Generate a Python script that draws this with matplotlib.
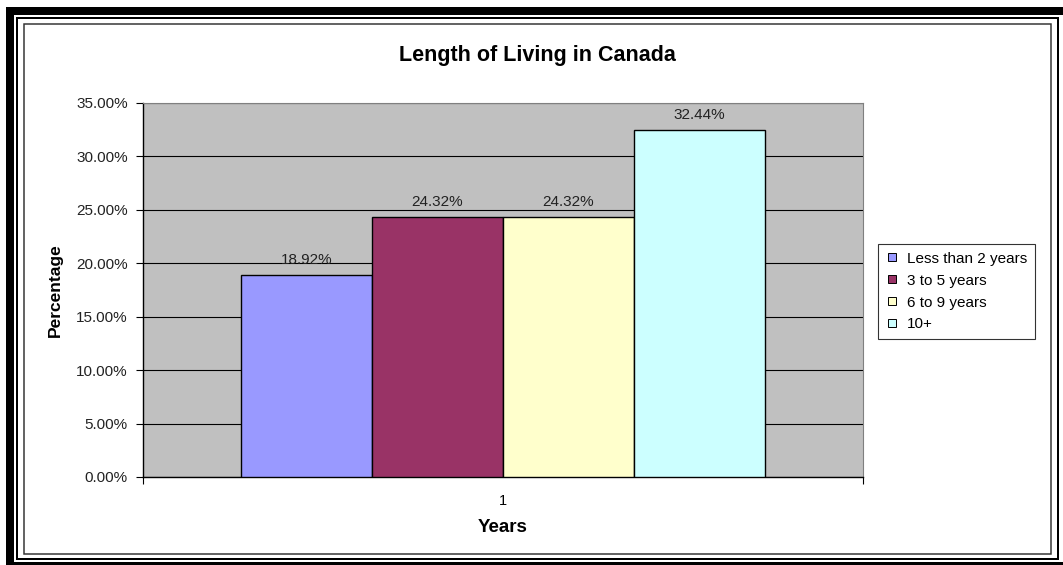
import numpy as np
import matplotlib
matplotlib.use("Agg")
import matplotlib.pyplot as plt
from matplotlib.patches import Rectangle
from matplotlib.lines import Line2D
from matplotlib.ticker import FuncFormatter, MultipleLocator

plt.rcParams['font.family'] = ['Liberation Sans', 'DejaVu Sans']

categories = ["Less than 2 years", "3 to 5 years", "6 to 9 years", "10+"]
values = [0.1892, 0.2432, 0.2432, 0.3244]
colors = ["#9999FF", "#993366", "#FFFFCC", "#CCFFFF"]
xtick_labels = ["1"]

W, H = 1063, 565
fig = plt.figure(figsize=(W / 100, H / 100), dpi=100)

def px_rect(x0, y0, x1, y1, lw, color):
    # rectangle given in pixel coords from top-left
    r = Rectangle((x0 / W, 1 - y1 / H), (x1 - x0) / W, (y1 - y0) / H,
                  transform=fig.transFigure, fill=False, lw=lw * 0.72,
                  edgecolor=color, clip_on=False)
    fig.add_artist(r)

# frames around the chart
px_rect(10, 11, 1065, 566, 8, "black")
px_rect(17, 18, 1058, 559, 2, "black")
px_rect(23.5, 23.5, 1051, 554, 1.5, "#333333")

ax = fig.add_axes([143 / W, 1 - 477 / H, 720 / W, 374 / H])
ax.set_facecolor("#C0C0C0")

n = len(values)
w = 1 / (n + 1.5)
for i, (v, c, lab) in enumerate(zip(values, colors, categories)):
    xpos = 1 + (i - (n - 1) / 2) * w
    ax.bar(xpos, v, width=w, color=c, edgecolor="black", linewidth=1.0,
           label=lab, zorder=3)
    ax.annotate(f"{v * 100:.2f}%", (xpos, v), xytext=(0, 11),
                textcoords="offset points", ha="center", va="center",
                fontsize=11, color="#222222", zorder=4)

ax.set_xlim(0.5, 1.5)
ax.set_ylim(0, 0.35)
ax.yaxis.set_major_locator(MultipleLocator(0.05))
ax.yaxis.set_major_formatter(FuncFormatter(lambda y, p: f"{y * 100:.2f}%"))
ax.grid(axis="y", color="black", linewidth=0.8, zorder=1)
ax.set_axisbelow(True)

ax.set_xticks([1])
ax.set_xticklabels(xtick_labels)
ax.set_xticks([0.5, 1.5], minor=True)
ax.tick_params(axis="x", which="major", length=0, pad=12, labelsize=10.5)
ax.tick_params(axis="x", which="minor", length=5, width=0.8, direction="out")
ax.tick_params(axis="y", length=5, width=0.8, pad=6, labelsize=11,
               labelcolor="#222222")

for s in ["left", "bottom"]:
    ax.spines[s].set_color("black")
    ax.spines[s].set_linewidth(1.0)
for s in ["top", "right"]:
    ax.spines[s].set_color("#808080")
    ax.spines[s].set_linewidth(0.8)

fig.text(537 / W, 1 - 56 / H, "Length of Living in Canada", ha="center",
         va="center", fontsize=15.5, fontweight="bold")
fig.text(55 / W, 1 - 290 / H, "Percentage", ha="center", va="center",
         rotation=90, fontsize=12.5, fontweight="bold")
fig.text(503 / W, 1 - 527 / H, "Years", ha="center", va="center",
         fontsize=13.5, fontweight="bold")

handles = [Line2D([0], [0], marker="s", linestyle="none", markersize=6,
                  markerfacecolor=c, markeredgecolor="black",
                  markeredgewidth=0.7) for c in colors]
leg = fig.legend(handles, categories, loc="upper left",
                 bbox_to_anchor=(878 / W, 1 - 244 / H), fontsize=11,
                 frameon=True, fancybox=False, edgecolor="black",
                 handlelength=0.8, handletextpad=0.6, labelspacing=0.52,
                 borderpad=0.5, borderaxespad=0)
leg.get_frame().set_linewidth(0.8)

fig.savefig("out.png", dpi=100)
